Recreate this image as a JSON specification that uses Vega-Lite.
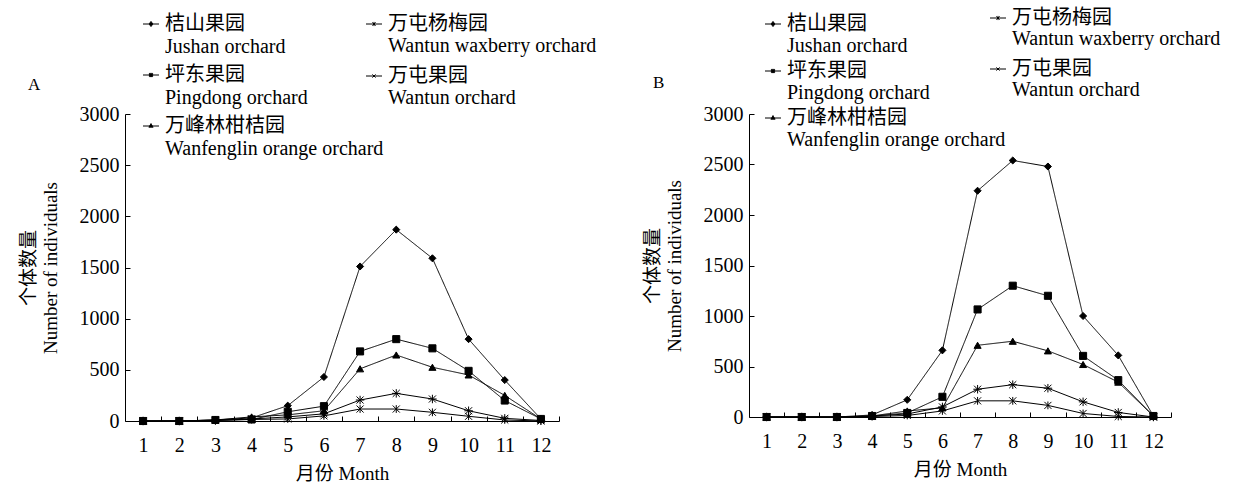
{
  "$schema": "https://vega.github.io/schema/vega-lite/v6.json",
  "background": "white",
  "padding": {"left": 19, "top": 8, "right": 0, "bottom": 0},
  "spacing": 190,
  "bounds": "flush",
  "config": {
    "view": {"stroke": null},
    "font": "Liberation Serif, Noto Sans CJK SC",
    "axis": {"labelColor": "black", "titleColor": "black", "domainColor": "black", "tickColor": "black", "grid": false, "labelFont": "Liberation Serif", "titleFont": "Liberation Serif, Noto Sans CJK SC", "titleFontWeight": "normal", "labelFontSize": 20, "titleFontSize": 19},
    "legend": {"labelFont": "Liberation Serif, Noto Sans CJK SC", "labelFontSize": 20, "labelColor": "black", "padding": 0, "symbolSize": 256, "symbolStrokeWidth": 1, "symbolStrokeColor": "black", "symbolFillColor": "black", "rowPadding": 8, "labelOffset": 4, "labelLimit": 400},
    "title": {"font": "Liberation Serif", "fontWeight": "normal", "fontSize": 17, "color": "black"}
  },
  "datasets": {
    "A": [
      {"month":1,"series":"桔山果园|Jushan orchard","value":0},{"month":2,"series":"桔山果园|Jushan orchard","value":0},{"month":3,"series":"桔山果园|Jushan orchard","value":10},{"month":4,"series":"桔山果园|Jushan orchard","value":30},{"month":5,"series":"桔山果园|Jushan orchard","value":150},{"month":6,"series":"桔山果园|Jushan orchard","value":430},{"month":7,"series":"桔山果园|Jushan orchard","value":1510},{"month":8,"series":"桔山果园|Jushan orchard","value":1870},{"month":9,"series":"桔山果园|Jushan orchard","value":1590},{"month":10,"series":"桔山果园|Jushan orchard","value":800},{"month":11,"series":"桔山果园|Jushan orchard","value":400},{"month":12,"series":"桔山果园|Jushan orchard","value":20},
      {"month":1,"series":"坪东果园|Pingdong orchard","value":0},{"month":2,"series":"坪东果园|Pingdong orchard","value":0},{"month":3,"series":"坪东果园|Pingdong orchard","value":10},{"month":4,"series":"坪东果园|Pingdong orchard","value":15},{"month":5,"series":"坪东果园|Pingdong orchard","value":90},{"month":6,"series":"坪东果园|Pingdong orchard","value":145},{"month":7,"series":"坪东果园|Pingdong orchard","value":680},{"month":8,"series":"坪东果园|Pingdong orchard","value":800},{"month":9,"series":"坪东果园|Pingdong orchard","value":710},{"month":10,"series":"坪东果园|Pingdong orchard","value":490},{"month":11,"series":"坪东果园|Pingdong orchard","value":200},{"month":12,"series":"坪东果园|Pingdong orchard","value":20},
      {"month":1,"series":"万峰林柑桔园|Wanfenglin orange orchard","value":0},{"month":2,"series":"万峰林柑桔园|Wanfenglin orange orchard","value":0},{"month":3,"series":"万峰林柑桔园|Wanfenglin orange orchard","value":10},{"month":4,"series":"万峰林柑桔园|Wanfenglin orange orchard","value":40},{"month":5,"series":"万峰林柑桔园|Wanfenglin orange orchard","value":60},{"month":6,"series":"万峰林柑桔园|Wanfenglin orange orchard","value":100},{"month":7,"series":"万峰林柑桔园|Wanfenglin orange orchard","value":510},{"month":8,"series":"万峰林柑桔园|Wanfenglin orange orchard","value":645},{"month":9,"series":"万峰林柑桔园|Wanfenglin orange orchard","value":525},{"month":10,"series":"万峰林柑桔园|Wanfenglin orange orchard","value":450},{"month":11,"series":"万峰林柑桔园|Wanfenglin orange orchard","value":250},{"month":12,"series":"万峰林柑桔园|Wanfenglin orange orchard","value":20},
      {"month":1,"series":"万屯杨梅园|Wantun waxberry orchard","value":0},{"month":2,"series":"万屯杨梅园|Wantun waxberry orchard","value":0},{"month":3,"series":"万屯杨梅园|Wantun waxberry orchard","value":5},{"month":4,"series":"万屯杨梅园|Wantun waxberry orchard","value":15},{"month":5,"series":"万屯杨梅园|Wantun waxberry orchard","value":20},{"month":6,"series":"万屯杨梅园|Wantun waxberry orchard","value":50},{"month":7,"series":"万屯杨梅园|Wantun waxberry orchard","value":117},{"month":8,"series":"万屯杨梅园|Wantun waxberry orchard","value":117},{"month":9,"series":"万屯杨梅园|Wantun waxberry orchard","value":85},{"month":10,"series":"万屯杨梅园|Wantun waxberry orchard","value":46},{"month":11,"series":"万屯杨梅园|Wantun waxberry orchard","value":10},{"month":12,"series":"万屯杨梅园|Wantun waxberry orchard","value":0},
      {"month":1,"series":"万屯果园|Wantun orchard","value":0},{"month":2,"series":"万屯果园|Wantun orchard","value":0},{"month":3,"series":"万屯果园|Wantun orchard","value":5},{"month":4,"series":"万屯果园|Wantun orchard","value":20},{"month":5,"series":"万屯果园|Wantun orchard","value":40},{"month":6,"series":"万屯果园|Wantun orchard","value":70},{"month":7,"series":"万屯果园|Wantun orchard","value":205},{"month":8,"series":"万屯果园|Wantun orchard","value":270},{"month":9,"series":"万屯果园|Wantun orchard","value":215},{"month":10,"series":"万屯果园|Wantun orchard","value":100},{"month":11,"series":"万屯果园|Wantun orchard","value":26},{"month":12,"series":"万屯果园|Wantun orchard","value":5}
    ],
    "B": [
      {"month":1,"series":"桔山果园|Jushan orchard","value":0},{"month":2,"series":"桔山果园|Jushan orchard","value":0},{"month":3,"series":"桔山果园|Jushan orchard","value":0},{"month":4,"series":"桔山果园|Jushan orchard","value":20},{"month":5,"series":"桔山果园|Jushan orchard","value":170},{"month":6,"series":"桔山果园|Jushan orchard","value":660},{"month":7,"series":"桔山果园|Jushan orchard","value":2240},{"month":8,"series":"桔山果园|Jushan orchard","value":2540},{"month":9,"series":"桔山果园|Jushan orchard","value":2480},{"month":10,"series":"桔山果园|Jushan orchard","value":1000},{"month":11,"series":"桔山果园|Jushan orchard","value":610},{"month":12,"series":"桔山果园|Jushan orchard","value":10},
      {"month":1,"series":"坪东果园|Pingdong orchard","value":0},{"month":2,"series":"坪东果园|Pingdong orchard","value":0},{"month":3,"series":"坪东果园|Pingdong orchard","value":0},{"month":4,"series":"坪东果园|Pingdong orchard","value":10},{"month":5,"series":"坪东果园|Pingdong orchard","value":40},{"month":6,"series":"坪东果园|Pingdong orchard","value":200},{"month":7,"series":"坪东果园|Pingdong orchard","value":1065},{"month":8,"series":"坪东果园|Pingdong orchard","value":1300},{"month":9,"series":"坪东果园|Pingdong orchard","value":1200},{"month":10,"series":"坪东果园|Pingdong orchard","value":605},{"month":11,"series":"坪东果园|Pingdong orchard","value":365},{"month":12,"series":"坪东果园|Pingdong orchard","value":10},
      {"month":1,"series":"万峰林柑桔园|Wanfenglin orange orchard","value":0},{"month":2,"series":"万峰林柑桔园|Wanfenglin orange orchard","value":0},{"month":3,"series":"万峰林柑桔园|Wanfenglin orange orchard","value":0},{"month":4,"series":"万峰林柑桔园|Wanfenglin orange orchard","value":10},{"month":5,"series":"万峰林柑桔园|Wanfenglin orange orchard","value":60},{"month":6,"series":"万峰林柑桔园|Wanfenglin orange orchard","value":90},{"month":7,"series":"万峰林柑桔园|Wanfenglin orange orchard","value":710},{"month":8,"series":"万峰林柑桔园|Wanfenglin orange orchard","value":750},{"month":9,"series":"万峰林柑桔园|Wanfenglin orange orchard","value":655},{"month":10,"series":"万峰林柑桔园|Wanfenglin orange orchard","value":520},{"month":11,"series":"万峰林柑桔园|Wanfenglin orange orchard","value":345},{"month":12,"series":"万峰林柑桔园|Wanfenglin orange orchard","value":10},
      {"month":1,"series":"万屯杨梅园|Wantun waxberry orchard","value":0},{"month":2,"series":"万屯杨梅园|Wantun waxberry orchard","value":0},{"month":3,"series":"万屯杨梅园|Wantun waxberry orchard","value":0},{"month":4,"series":"万屯杨梅园|Wantun waxberry orchard","value":5},{"month":5,"series":"万屯杨梅园|Wantun waxberry orchard","value":15},{"month":6,"series":"万屯杨梅园|Wantun waxberry orchard","value":60},{"month":7,"series":"万屯杨梅园|Wantun waxberry orchard","value":160},{"month":8,"series":"万屯杨梅园|Wantun waxberry orchard","value":160},{"month":9,"series":"万屯杨梅园|Wantun waxberry orchard","value":115},{"month":10,"series":"万屯杨梅园|Wantun waxberry orchard","value":35},{"month":11,"series":"万屯杨梅园|Wantun waxberry orchard","value":5},{"month":12,"series":"万屯杨梅园|Wantun waxberry orchard","value":0},
      {"month":1,"series":"万屯果园|Wantun orchard","value":0},{"month":2,"series":"万屯果园|Wantun orchard","value":0},{"month":3,"series":"万屯果园|Wantun orchard","value":0},{"month":4,"series":"万屯果园|Wantun orchard","value":10},{"month":5,"series":"万屯果园|Wantun orchard","value":30},{"month":6,"series":"万屯果园|Wantun orchard","value":100},{"month":7,"series":"万屯果园|Wantun orchard","value":275},{"month":8,"series":"万屯果园|Wantun orchard","value":320},{"month":9,"series":"万屯果园|Wantun orchard","value":285},{"month":10,"series":"万屯果园|Wantun orchard","value":150},{"month":11,"series":"万屯果园|Wantun orchard","value":45},{"month":12,"series":"万屯果园|Wantun orchard","value":0}
    ]
  },
  "resolve": {"scale": {"color": "independent", "shape": "independent", "strokeDash": "independent"}, "legend": {"color": "independent", "strokeDash": "independent"}},
  "hconcat": [
    {
      "width": 434, "height": 307,
      "title": {"text": "A", "anchor": "start", "frame": "group", "dx": -97, "dy": 104, "offset": 24},
      "data": {"name": "A"},
      "resolve": {"axis": {"x": "independent"}},
      "layer": [
        {
          "mark": {"type": "line", "strokeWidth": 1},
          "encoding": {
            "x": {"field": "month", "type": "quantitative", "scale": {"domain": [0.5, 12.5], "nice": false, "zero": false},
                  "axis": {"orient": "bottom", "values": [1,2,3,4,5,6,7,8,9,10,11,12], "ticks": false, "labelPadding": 14, "title": "月份 Month", "titlePadding": 9}},
            "y": {"field": "value", "type": "quantitative", "scale": {"domain": [0, 3000], "nice": false},
                  "axis": {"values": [0,500,1000,1500,2000,2500,3000], "format": "d", "tickSize": -5, "labelPadding": 11, "title": ["个体数量", "Number of individuals"], "titleLineHeight": 22, "titlePadding": 19}},
            "color": {"field": "series", "type": "nominal",
                      "scale": {"domain": ["万屯杨梅园|Wantun waxberry orchard", "万屯果园|Wantun orchard", "桔山果园|Jushan orchard", "坪东果园|Pingdong orchard", "万峰林柑桔园|Wanfenglin orange orchard"], "range": ["black","black","black","black","black"]},
                      "legend": {"orient": "none", "legendX": 239, "legendY": -100, "title": null, "direction": "vertical", "rowPadding": 10,
                                 "values": ["万屯杨梅园|Wantun waxberry orchard", "万屯果园|Wantun orchard"],
                                 "labelExpr": "split(datum.label, '|')",
                                 "encode": {"symbols": {"update": {"shape": {"signal": "indexof(datum.value,'waxberry')>=0 ? 'M-1,0H1M-0.2,-0.2L0.2,0.2M-0.2,0.2L0.2,-0.2M0,-0.26V0.26' : 'M-1,0H1M-0.2,-0.2L0.2,0.2M-0.2,0.2L0.2,-0.2'"}, "stroke": {"value": "black"}, "fill": {"value": "black"}, "opacity": {"value": 1}, "strokeWidth": {"value": 1}}},
                                            "labels": {"update": {"lineHeight": {"value": 22}}}}}},
            "strokeDash": {"field": "series", "type": "nominal",
                     "scale": {"domain": ["桔山果园|Jushan orchard", "坪东果园|Pingdong orchard", "万峰林柑桔园|Wanfenglin orange orchard"], "range": [[1,0],[1,0],[1,0]]},
                     "legend": {"orient": "none", "legendX": 16, "legendY": -100, "title": null, "direction": "vertical", "rowPadding": 8,
                                "labelExpr": "split(datum.label, '|')",
                                "encode": {"symbols": {"update": {"shape": {"signal": "indexof(datum.value,'Jushan')>=0 ? 'M-1,0H1M0,-0.32L0.24,0L0,0.32L-0.24,0Z' : indexof(datum.value,'Pingdong')>=0 ? 'M-1,0H1M-0.2,-0.2H0.2V0.2H-0.2Z' : 'M-1,0H1M0,-0.3L0.26,0.16H-0.26Z'"}, "stroke": {"value": "black"}, "fill": {"value": "black"}, "opacity": {"value": 1}, "strokeWidth": {"value": 1}, "strokeDash": {"value": [1, 0]}}},
                                           "labels": {"update": {"lineHeight": {"value": 23}}}}}}
          }
        },
        {
          "mark": {"type": "point", "filled": true, "fill": "black", "stroke": "black", "strokeWidth": 1, "size": 50, "opacity": 1},
          "encoding": {
            "x": {"field": "month", "type": "quantitative", "scale": {"domain": [0.5, 12.5], "nice": false, "zero": false},
                  "axis": {"orient": "bottom", "values": [1.5,2.5,3.5,4.5,5.5,6.5,7.5,8.5,9.5,10.5,11.5,12.5], "labels": false, "domain": false, "tickSize": -5, "title": null}},
            "y": {"field": "value", "type": "quantitative"},
            "shape": {"field": "series", "type": "nominal", "legend": null,
                      "scale": {"domain": ["桔山果园|Jushan orchard", "坪东果园|Pingdong orchard", "万峰林柑桔园|Wanfenglin orange orchard", "万屯杨梅园|Wantun waxberry orchard", "万屯果园|Wantun orchard"],
                                "range": ["diamond", "square", "triangle-up", "M-1,-1L1,1M-1,1L1,-1M0,-1.1V1.1", "M-1,-1L1,1M-1,1L1,-1M-1.2,0H1.2M0,-1.2V1.2"]}}
          }
        }
      ]
    },
    {
      "width": 422, "height": 303,
      "title": {"text": "B", "anchor": "start", "frame": "group", "dx": -96, "dy": 108, "offset": 24},
      "data": {"name": "B"},
      "resolve": {"axis": {"x": "independent"}},
      "layer": [
        {
          "mark": {"type": "line", "strokeWidth": 1},
          "encoding": {
            "x": {"field": "month", "type": "quantitative", "scale": {"domain": [0.5, 12.5], "nice": false, "zero": false},
                  "axis": {"orient": "bottom", "values": [1,2,3,4,5,6,7,8,9,10,11,12], "ticks": false, "labelPadding": 14, "title": "月份 Month", "titlePadding": 9}},
            "y": {"field": "value", "type": "quantitative", "scale": {"domain": [0, 3000], "nice": false},
                  "axis": {"values": [0,500,1000,1500,2000,2500,3000], "format": "d", "tickSize": -5, "labelPadding": 11, "title": ["个体数量", "Number of individuals"], "titleLineHeight": 22, "titlePadding": 19}},
            "color": {"field": "series", "type": "nominal",
                      "scale": {"domain": ["万屯杨梅园|Wantun waxberry orchard", "万屯果园|Wantun orchard", "桔山果园|Jushan orchard", "坪东果园|Pingdong orchard", "万峰林柑桔园|Wanfenglin orange orchard"], "range": ["black","black","black","black","black"]},
                      "legend": {"orient": "none", "legendX": 239, "legendY": -106, "title": null, "direction": "vertical", "rowPadding": 10,
                                 "values": ["万屯杨梅园|Wantun waxberry orchard", "万屯果园|Wantun orchard"],
                                 "labelExpr": "split(datum.label, '|')",
                                 "encode": {"symbols": {"update": {"shape": {"signal": "indexof(datum.value,'waxberry')>=0 ? 'M-1,0H1M-0.2,-0.2L0.2,0.2M-0.2,0.2L0.2,-0.2M0,-0.26V0.26' : 'M-1,0H1M-0.2,-0.2L0.2,0.2M-0.2,0.2L0.2,-0.2'"}, "stroke": {"value": "black"}, "fill": {"value": "black"}, "opacity": {"value": 1}, "strokeWidth": {"value": 1}}},
                                            "labels": {"update": {"lineHeight": {"value": 21}}}}}},
            "strokeDash": {"field": "series", "type": "nominal",
                     "scale": {"domain": ["桔山果园|Jushan orchard", "坪东果园|Pingdong orchard", "万峰林柑桔园|Wanfenglin orange orchard"], "range": [[1,0],[1,0],[1,0]]},
                     "legend": {"orient": "none", "legendX": 14, "legendY": -100, "title": null, "direction": "vertical", "rowPadding": 5,
                                "labelExpr": "split(datum.label, '|')",
                                "encode": {"symbols": {"update": {"shape": {"signal": "indexof(datum.value,'Jushan')>=0 ? 'M-1,0H1M0,-0.32L0.24,0L0,0.32L-0.24,0Z' : indexof(datum.value,'Pingdong')>=0 ? 'M-1,0H1M-0.2,-0.2H0.2V0.2H-0.2Z' : 'M-1,0H1M0,-0.3L0.26,0.16H-0.26Z'"}, "stroke": {"value": "black"}, "fill": {"value": "black"}, "opacity": {"value": 1}, "strokeWidth": {"value": 1}, "strokeDash": {"value": [1, 0]}}},
                                           "labels": {"update": {"lineHeight": {"value": 22}}}}}}
          }
        },
        {
          "mark": {"type": "point", "filled": true, "fill": "black", "stroke": "black", "strokeWidth": 1, "size": 50, "opacity": 1},
          "encoding": {
            "x": {"field": "month", "type": "quantitative", "scale": {"domain": [0.5, 12.5], "nice": false, "zero": false},
                  "axis": {"orient": "bottom", "values": [1.5,2.5,3.5,4.5,5.5,6.5,7.5,8.5,9.5,10.5,11.5,12.5], "labels": false, "domain": false, "tickSize": -5, "title": null}},
            "y": {"field": "value", "type": "quantitative"},
            "shape": {"field": "series", "type": "nominal", "legend": null,
                      "scale": {"domain": ["桔山果园|Jushan orchard", "坪东果园|Pingdong orchard", "万峰林柑桔园|Wanfenglin orange orchard", "万屯杨梅园|Wantun waxberry orchard", "万屯果园|Wantun orchard"],
                                "range": ["diamond", "square", "triangle-up", "M-1,-1L1,1M-1,1L1,-1M0,-1.1V1.1", "M-1,-1L1,1M-1,1L1,-1M-1.2,0H1.2M0,-1.2V1.2"]}}
          }
        }
      ]
    }
  ]
}
